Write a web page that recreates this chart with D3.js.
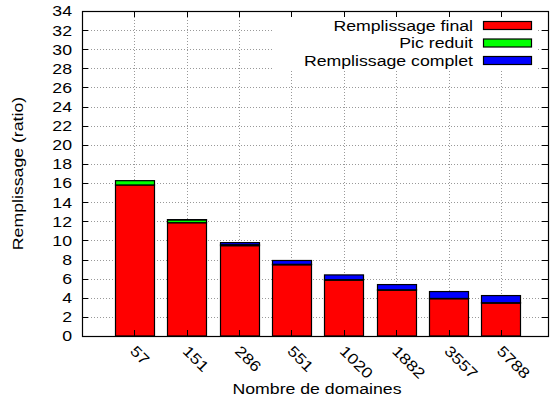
<!DOCTYPE html>
<html>
<head>
<meta charset="utf-8">
<script src="https://cdn.jsdelivr.net/npm/d3@7"></script>
<style>
  html, body { margin: 0; padding: 0; background: #fff; }
  svg { display: block; }
  text { font-family: "Liberation Sans", Arial, Helvetica, sans-serif; font-size: 15px; fill: #000; }
</style>
</head>
<body>
<svg id="chart" width="550" height="403"></svg>
<script>
// Domain counts (x categories)
const categories = ["57", "151", "286", "551", "1020", "1882", "3557", "5788"];
// Stacked series, bottom to top
const remplissageFinal   = [15.8, 11.85, 9.45, 7.45, 5.85, 4.8, 3.9, 3.45];
const picReduit          = [0.45, 0.3, 0.1, 0.05, 0.04, 0.03, 0.03, 0.03];
const remplissageComplet = [0.0, 0.02, 0.22, 0.4, 0.5, 0.55, 0.72, 0.75];
const seriesNames = ["Remplissage final", "Pic reduit", "Remplissage complet"];
const seriesColors = ["#ff0000", "#00ff00", "#0000ff"];
const yTicks = d3.range(0, 35, 2);
const xTitle = "Nombre de domaines";
const yTitle = "Remplissage (ratio)";

const svg = d3.select("#chart");
const plot = { left: 82, right: 548, top: 11, bottom: 336 };
const stretch = 1.18; // wide glyphs

const x = d3.scaleLinear().domain([-1, 7.9]).range([plot.left, plot.right]);
const y = d3.scaleLinear().domain([0, 34]).range([plot.bottom, plot.top]);
const barWidth = 0.745;

const rows = categories.map((c, i) => ({
  idx: i, cat: c,
  "Remplissage final": remplissageFinal[i],
  "Pic reduit": picReduit[i],
  "Remplissage complet": remplissageComplet[i]
}));
const stacked = d3.stack().keys(seriesNames)(rows);

const crisp = v => Math.round(v) + 0.5;

// grid
const grid = svg.append("g").attr("stroke", "#999").attr("stroke-width", 1).attr("stroke-dasharray", "1,2");
grid.selectAll("line.h").data(yTicks.filter(t => t > 0 && t < 34)).join("line")
  .attr("x1", plot.left).attr("x2", plot.right)
  .attr("y1", d => crisp(y(d))).attr("y2", d => crisp(y(d)));
grid.selectAll("line.v").data(d3.range(categories.length)).join("line")
  .attr("x1", d => crisp(x(d))).attr("x2", d => crisp(x(d)))
  .attr("y1", plot.top).attr("y2", plot.bottom);

// legend background (opaque key)
svg.append("rect").attr("x", 272).attr("y", 17).attr("width", 265).attr("height", 53).attr("fill", "#fff");

// bars
const bars = svg.append("g");
stacked.forEach((layer, si) => {
  bars.selectAll(null).data(layer.filter(d => d[1] - d[0] > 0)).join("rect")
    .attr("x", d => crisp(x(d.data.idx - barWidth / 2)))
    .attr("width", d => Math.round(x(d.data.idx + barWidth / 2)) - Math.round(x(d.data.idx - barWidth / 2)))
    .attr("y", d => y(d[1]))
    .attr("height", d => y(d[0]) - y(d[1]))
    .attr("fill", seriesColors[si])
    .attr("stroke", "#000").attr("stroke-width", 1.2);
});

// ticks (inward, mirrored)
const tickG = svg.append("g").attr("stroke", "#000").attr("stroke-width", 1);
yTicks.forEach(t => {
  const yy = crisp(y(t));
  tickG.append("line").attr("x1", plot.left).attr("x2", plot.left + 6).attr("y1", yy).attr("y2", yy);
  tickG.append("line").attr("x1", plot.right - 6).attr("x2", plot.right).attr("y1", yy).attr("y2", yy);
});
d3.range(categories.length).forEach(i => {
  const xx = crisp(x(i));
  tickG.append("line").attr("x1", xx).attr("x2", xx).attr("y1", plot.bottom).attr("y2", plot.bottom - 6);
  tickG.append("line").attr("x1", xx).attr("x2", xx).attr("y1", plot.top).attr("y2", plot.top + 6);
});

// frame
svg.append("rect").attr("x", plot.left + 0.5).attr("y", plot.top + 0.5)
  .attr("width", plot.right - plot.left).attr("height", plot.bottom - plot.top)
  .attr("fill", "none").attr("stroke", "#000").attr("stroke-width", 1.2);

// y tick labels
svg.append("g").selectAll("text").data(yTicks).join("text")
  .attr("transform", d => `translate(72,${y(d) + 5.4}) scale(${stretch},1)`)
  .attr("text-anchor", "end").text(d => d);

// x tick labels, rotated
svg.append("g").selectAll("text").data(categories).join("text")
  .attr("transform", (d, i) => `translate(${x(i) - 5},352) rotate(45) scale(${stretch},1)`)
  .attr("text-anchor", "start").text(d => d);

// axis titles
svg.append("text").attr("transform", `translate(${(plot.left + plot.right) / 2 + 2},394) scale(${stretch},1)`)
  .attr("text-anchor", "middle").text(xTitle);
svg.append("text").attr("transform", `translate(23,${(plot.top + plot.bottom) / 2}) rotate(-90) scale(${stretch},1)`)
  .attr("text-anchor", "middle").text(yTitle);

// legend
const legend = svg.append("g");
seriesNames.forEach((name, i) => {
  const cy = 25.5 + i * 17.5;
  legend.append("text").attr("transform", `translate(473,${cy + 5.4}) scale(${stretch},1)`)
    .attr("text-anchor", "end").text(name);
  legend.append("rect").attr("x", 483.5).attr("y", cy - 4).attr("width", 48).attr("height", 8)
    .attr("fill", seriesColors[i]).attr("stroke", "#000").attr("stroke-width", 1.2);
});
</script>
</body>
</html>
